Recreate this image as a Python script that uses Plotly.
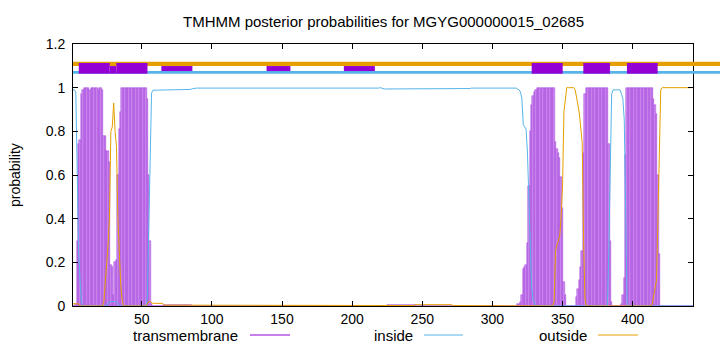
import plotly.graph_objects as go

# ---------------- data ----------------
residues = list(range(1, 444))

tm = [
    0, 0, 0.01, 0.3, 0.74, 0.76, 0.97, 0.99, 1, 1,            # 1
    1, 1, 0.99, 1, 1, 1, 1, 1, 0.99, 1,                       # 11
    1, 0.99, 0.78, 0.78, 0.71, 0.71, 0.66, 0.19, 0.18, 0.05,  # 21
    0.2, 0.21, 0.6, 0.81, 0.89, 1, 1, 1, 1, 1,                # 31
    1, 1, 1, 1, 1, 1, 1, 1, 1, 1,                             # 41
    1, 1, 1, 0.95, 0.6, 0.3, 0.01, 0, 0, 0,                   # 51
    0, 0, 0, 0, 0, 0.004, 0.004, 0.004, 0.004, 0.004,         # 61
    0.004, 0.004, 0.004, 0.004, 0.004, 0.004, 0.004, 0.004, 0.004, 0.004,  # 71
    0.004, 0.004, 0.004, 0.004, 0.004, 0, 0, 0, 0, 0,         # 81
    0, 0, 0, 0, 0, 0, 0, 0, 0, 0,                             # 91
    0, 0, 0, 0, 0, 0, 0, 0, 0, 0,                             # 101
    0, 0, 0, 0, 0, 0, 0, 0, 0, 0,                             # 111
    0, 0, 0, 0, 0, 0, 0, 0, 0, 0,                             # 121
    0, 0, 0, 0, 0, 0, 0, 0, 0, 0,                             # 131
    0, 0, 0, 0, 0, 0, 0, 0, 0, 0,                             # 141
    0, 0, 0, 0, 0, 0, 0, 0, 0, 0,                             # 151
    0, 0, 0, 0, 0, 0, 0, 0, 0, 0,                             # 161
    0, 0, 0, 0, 0, 0, 0, 0, 0, 0,                             # 171
    0, 0, 0, 0, 0, 0, 0, 0, 0, 0,                             # 181
    0, 0, 0, 0, 0, 0, 0, 0, 0, 0,                             # 191
    0, 0, 0, 0, 0, 0, 0, 0, 0, 0,                             # 201
    0, 0, 0, 0, 0, 0, 0, 0, 0, 0,                             # 211
    0, 0, 0, 0, 0.004, 0.004, 0.004, 0.004, 0.004, 0.004,     # 221
    0.004, 0.004, 0.004, 0.004, 0.004, 0.004, 0.004, 0.004, 0.004, 0.004,  # 231
    0.004, 0.004, 0.004, 0.004, 0.004, 0, 0, 0, 0, 0,         # 241
    0, 0, 0, 0, 0, 0, 0, 0, 0, 0,                             # 251
    0, 0, 0, 0, 0, 0, 0, 0, 0, 0,                             # 261
    0, 0, 0, 0, 0, 0, 0, 0, 0, 0,                             # 271
    0, 0, 0, 0, 0, 0, 0, 0, 0, 0,                             # 281
    0, 0, 0, 0, 0, 0, 0, 0, 0, 0,                             # 291
    0, 0, 0, 0, 0, 0, 0, 0, 0, 0,                             # 301
    0, 0, 0, 0, 0, 0, 0, 0.01, 0.01, 0.02,                    # 311
    0.05, 0.17, 0.18, 0.19, 0.29, 0.55, 0.8, 0.92, 0.96, 0.98,  # 321
    0.99, 1, 1, 1, 1, 1, 1, 1, 1, 1,                          # 331
    1, 1, 1, 1, 0.75, 0.72, 0.7, 0.68, 0.59, 0.45,            # 341
    0.11, 0.05, 0, 0, 0, 0, 0, 0, 0, 0.04,                    # 351
    0.08, 0.12, 0.18, 0.25, 0.7, 0.97, 1, 1, 1, 1,            # 361
    1, 1, 1, 1, 1, 1, 1, 1, 1, 1,                             # 371
    1, 1, 0.74, 0.3, 0.02, 0, 0, 0, 0, 0,                     # 381
    0, 0.01, 0.05, 0.13, 0.69, 1, 1, 1, 1, 1,                 # 391
    1, 1, 1, 1, 1, 1, 1, 1, 1, 1,                             # 401
    1, 1, 1, 1, 0.95, 0.92, 0.88, 0.6, 0.24, 0,               # 411
    0, 0, 0, 0, 0, 0, 0, 0, 0, 0,                             # 421
    0, 0, 0, 0, 0, 0, 0, 0, 0, 0,                             # 431
    0, 0, 0,                                                  # 441
]

inside = [
    0.99, 0.99, 0.98, 0.69, 0.25, 0.12, 0.02, 0, 0, 0,        # 1
    0, 0, 0, 0, 0, 0, 0, 0, 0, 0,                             # 11
    0, 0, 0, 0, 0, 0.01, 0.02, 0.02, 0.02, 0.02,              # 21
    0.02, 0.02, 0.01, 0, 0, 0, 0, 0, 0, 0,                    # 31
    0, 0, 0, 0, 0, 0, 0, 0, 0, 0,                             # 41
    0, 0, 0, 0.04, 0.38, 0.68, 0.975, 0.988, 0.989, 0.989,    # 51
    0.989, 0.989, 0.989, 0.989, 0.989, 0.989, 0.989, 0.989, 0.989, 0.989,  # 61
    0.989, 0.989, 0.989, 0.989, 0.989, 0.989, 0.989, 0.989, 0.989, 0.989,  # 71
    0.989, 0.989, 0.989, 0.99, 0.992, 0.995, 0.997, 0.998, 0.998, 0.998,   # 81
    0.998, 0.998, 0.998, 0.998, 0.998, 0.998, 0.998, 0.998, 0.998, 0.998,  # 91
    0.998, 0.998, 0.998, 0.998, 0.998, 0.998, 0.998, 0.998, 0.998, 0.998,  # 101
    0.998, 0.998, 0.998, 0.998, 0.998, 0.998, 0.998, 0.998, 0.998, 0.998,  # 111
    0.998, 0.998, 0.998, 0.998, 0.998, 0.998, 0.998, 0.998, 0.998, 0.998,  # 121
    0.998, 0.998, 0.998, 0.998, 0.998, 0.998, 0.998, 0.998, 0.998, 0.998,  # 131
    0.998, 0.998, 0.998, 0.998, 0.998, 0.998, 0.998, 0.998, 0.998, 0.998,  # 141
    0.998, 0.998, 0.998, 0.998, 0.998, 0.998, 0.998, 0.998, 0.998, 0.998,  # 151
    0.998, 0.998, 0.998, 0.998, 0.998, 0.998, 0.998, 0.998, 0.998, 0.998,  # 161
    0.998, 0.998, 0.998, 0.998, 0.996, 0.996, 0.996, 0.996, 0.996, 0.996,  # 171
    0.996, 0.996, 0.996, 0.996, 0.996, 0.996, 0.996, 0.996, 0.996, 0.998,  # 181
    0.998, 0.998, 0.998, 0.998, 0.998, 0.998, 0.998, 0.998, 0.998, 0.998,  # 191
    0.998, 0.998, 0.998, 0.998, 0.998, 0.998, 0.998, 0.998, 0.998, 0.998,  # 201
    0.998, 0.998, 0.998, 0.998, 0.998, 0.998, 0.998, 0.998, 0.998, 1.0,    # 211
    0.997, 0.995, 0.994, 0.994, 0.994, 0.994, 0.994, 0.994, 0.994, 0.994,  # 221
    0.994, 0.994, 0.994, 0.994, 0.994, 0.994, 0.994, 0.994, 0.994, 0.994,  # 231
    0.994, 0.994, 0.994, 0.994, 0.994, 0.994, 0.994, 0.994, 0.994, 0.994,  # 241
    0.994, 0.994, 0.994, 0.994, 0.994, 0.994, 0.994, 0.994, 0.994, 0.994,  # 251
    0.994, 0.994, 0.994, 0.994, 0.994, 0.994, 0.994, 0.994, 0.994, 0.994,  # 261
    0.994, 0.994, 0.994, 0.994, 0.994, 0.994, 0.994, 0.994, 0.994, 0.994,  # 271
    0.994, 0.994, 0.994, 0.996, 0.998, 0.998, 0.998, 0.998, 0.998, 0.998,  # 281
    0.998, 0.998, 0.998, 0.998, 0.998, 0.998, 0.998, 0.998, 0.998, 0.998,  # 291
    0.998, 0.998, 0.998, 0.998, 0.998, 0.998, 0.998, 0.998, 0.998, 0.998,  # 301
    0.998, 0.998, 0.998, 0.998, 0.998, 0.998, 0.998, 0.994, 0.99, 0.98,    # 311
    0.95, 0.83, 0.82, 0.81, 0.7, 0.45, 0.2, 0.08, 0.03, 0.01,              # 321
    0, 0, 0, 0, 0, 0, 0, 0, 0, 0,                             # 331
    0, 0, 0, 0, 0, 0, 0, 0, 0, 0,                             # 341
    0, 0, 0, 0, 0, 0, 0, 0, 0, 0,                             # 351
    0, 0, 0, 0, 0, 0, 0, 0, 0, 0,                             # 361
    0, 0, 0, 0, 0, 0, 0, 0, 0, 0,                             # 371
    0, 0, 0.26, 0.7, 0.97, 0.99, 0.99, 0.99, 0.99, 0.99,      # 381
    0.99, 0.97, 0.95, 0.85, 0.3, 0.02, 0, 0, 0, 0,            # 391
    0, 0, 0, 0, 0, 0, 0, 0, 0, 0,                             # 401
    0, 0, 0, 0, 0, 0, 0, 0, 0, 0,                             # 411
    0, 0, 0, 0, 0, 0, 0, 0, 0, 0,                             # 421
    0, 0, 0, 0, 0, 0, 0, 0, 0, 0,                             # 431
    0, 0, 0,                                                  # 441
]

outside = [
    0.01, 0.01, 0.01, 0.01, 0.01, 0, 0, 0, 0, 0,              # 1
    0, 0, 0, 0, 0, 0, 0, 0, 0, 0,                             # 11
    0, 0, 0.02, 0.1, 0.2, 0.28, 0.4, 0.8, 0.82, 0.93,         # 21
    0.8, 0.73, 0.4, 0.2, 0.1, 0.03, 0, 0, 0, 0,               # 31
    0, 0, 0, 0, 0, 0, 0, 0, 0, 0,                             # 41
    0, 0, 0, 0.01, 0.02, 0.02, 0.015, 0.012, 0.012, 0.012,    # 51
    0.012, 0.012, 0.012, 0.012, 0.012, 0.004, 0.004, 0.004, 0.004, 0.004,  # 61
    0.004, 0.004, 0.004, 0.004, 0.004, 0.004, 0.004, 0.004, 0.004, 0.004,  # 71
    0.004, 0.004, 0.004, 0.004, 0.004, 0.004, 0.004, 0.004, 0.004, 0.004,  # 81
    0.004, 0.004, 0.004, 0.004, 0.004, 0.004, 0.004, 0.004, 0.004, 0.004,  # 91
    0.004, 0.004, 0.004, 0.004, 0.004, 0.004, 0.004, 0.004, 0.004, 0.004,  # 101
    0.004, 0.004, 0.004, 0.004, 0.004, 0.004, 0.004, 0.004, 0.004, 0.004,  # 111
    0.004, 0.004, 0.004, 0.004, 0.004, 0.004, 0.004, 0.004, 0.004, 0.004,  # 121
    0.004, 0.004, 0.004, 0.004, 0.004, 0.004, 0.004, 0.004, 0.004, 0.004,  # 131
    0.004, 0.004, 0.004, 0.004, 0.004, 0.004, 0.004, 0.004, 0.004, 0.004,  # 141
    0.004, 0.004, 0.004, 0.004, 0.004, 0.004, 0.004, 0.004, 0.004, 0.004,  # 151
    0.004, 0.004, 0.004, 0.004, 0.004, 0.004, 0.004, 0.004, 0.004, 0.004,  # 161
    0.004, 0.004, 0.002, 0.002, 0.002, 0.002, 0.002, 0.002, 0.002, 0.002,  # 171
    0.002, 0.002, 0.002, 0.002, 0.002, 0.002, 0.002, 0.002, 0.002, 0.002,  # 181
    0.002, 0.002, 0.002, 0.002, 0.002, 0.002, 0.002, 0.002, 0.002, 0.002,  # 191
    0.002, 0.002, 0.002, 0.002, 0.002, 0.002, 0.002, 0.002, 0.002, 0.002,  # 201
    0.002, 0.002, 0.002, 0.002, 0.002, 0.002, 0.002, 0.002, 0.002, 0.002,  # 211
    0.002, 0.002, 0.002, 0.002, 0.002, 0.002, 0.002, 0.002, 0.002, 0.002,  # 221
    0.002, 0.002, 0.002, 0.002, 0.002, 0.002, 0.002, 0.002, 0.002, 0.002,  # 231
    0.002, 0.002, 0.002, 0.002, 0.006, 0.006, 0.006, 0.006, 0.006, 0.006,  # 241
    0.006, 0.006, 0.006, 0.006, 0.006, 0.006, 0.006, 0.006, 0.006, 0.006,  # 251
    0.006, 0.006, 0.006, 0.006, 0.006, 0.006, 0.006, 0.006, 0.006, 0.006,  # 261
    0.006, 0.002, 0.002, 0.002, 0.002, 0.002, 0.002, 0.002, 0.002, 0.002,  # 271
    0.002, 0.002, 0.002, 0.002, 0.002, 0.002, 0.002, 0.002, 0.002, 0.002,  # 281
    0.002, 0.002, 0.002, 0.002, 0.002, 0.002, 0.002, 0.002, 0.002, 0.002,  # 291
    0.002, 0.002, 0.002, 0.002, 0.002, 0.002, 0.002, 0.002, 0.002, 0.002,  # 301
    0.002, 0.002, 0.002, 0.002, 0.002, 0.002, 0.002, 0, 0, 0,              # 311
    0, 0, 0, 0, 0, 0, 0, 0, 0, 0,                             # 321
    0, 0, 0, 0, 0, 0, 0, 0, 0, 0,                             # 331
    0, 0, 0, 0.02, 0.25, 0.28, 0.3, 0.32, 0.41, 0.55,         # 341
    0.89, 0.95, 1, 1, 1, 1, 1, 1, 0.99, 0.96,                 # 351
    0.92, 0.88, 0.82, 0.75, 0.3, 0.03, 0, 0, 0, 0,            # 361
    0, 0, 0, 0, 0, 0, 0, 0, 0, 0,                             # 371
    0, 0, 0, 0, 0, 0, 0, 0, 0, 0,                             # 381
    0, 0, 0, 0, 0, 0, 0, 0, 0, 0,                             # 391
    0, 0, 0, 0, 0, 0, 0, 0, 0, 0,                             # 401
    0, 0, 0, 0.01, 0.05, 0.08, 0.12, 0.4, 0.76, 0.99,         # 411
    1, 1, 1, 1, 1, 1, 1, 1, 1, 1,                             # 421
    1, 1, 1, 1, 1, 1, 1, 1, 1, 1,                             # 431
    1, 1, 1,                                                  # 441
]

assert len(tm) == len(inside) == len(outside) == len(residues)

title_text = "TMHMM posterior probabilities for MGYG000000015_02685"
x_ticks = [50, 100, 150, 200, 250, 300, 350, 400]
y_ticks = [0, 0.2, 0.4, 0.6, 0.8, 1.0, 1.2]
y_tick_labels = ["0", "0.2", "0.4", "0.6", "0.8", "1", "1.2"]
legend_labels = ["transmembrane", "inside", "outside"]

# predicted topology (top strip)
tm_segments = [(5.1, 27.2), (31.9, 54.1), (328.0, 350.1), (364.8, 383.8), (395.9, 417.8)]
gap_segments = [(27.2, 31.9)]
thin_segments = [(64.0, 86.1), (139.0, 156.0), (194.1, 216.2)]

PURPLE = "#9400d3"
BLUE = "#56b4e9"
ORANGE = "#e69f00"
FONT = "Liberation Sans"

fig = go.Figure()
fig.add_trace(go.Bar(
    x=residues, y=tm, width=1.0,
    marker=dict(color="#cf8cef", line=dict(color="#a040dc", width=0.5)),
    showlegend=False, hoverinfo="skip"))
fig.add_trace(go.Scatter(x=residues, y=inside, mode="lines",
                         line=dict(color=BLUE, width=1), showlegend=False))
fig.add_trace(go.Scatter(x=residues, y=outside, mode="lines",
                         line=dict(color=ORANGE, width=1), showlegend=False))

shapes = []
# full-width strips
shapes.append(dict(type="rect", xref="paper", yref="y", x0=0, x1=1.05, y0=1.099, y1=1.119,
                   fillcolor=ORANGE, line=dict(width=0), layer="above"))
shapes.append(dict(type="rect", xref="paper", yref="y", x0=0, x1=1.05, y0=1.064, y1=1.076,
                   fillcolor=BLUE, line=dict(width=0), layer="above"))
for a, b in thin_segments:
    shapes.append(dict(type="rect", xref="x", yref="y", x0=a, x1=b, y0=1.076, y1=1.099,
                       fillcolor=PURPLE, line=dict(width=0), layer="above"))
for a, b in gap_segments:
    shapes.append(dict(type="rect", xref="x", yref="y", x0=a, x1=b, y0=1.064, y1=1.099,
                       fillcolor=PURPLE, line=dict(width=0), layer="above"))
for a, b in tm_segments:
    shapes.append(dict(type="rect", xref="x", yref="y", x0=a, x1=b, y0=1.064, y1=1.113,
                       fillcolor=PURPLE, line=dict(width=0), layer="above"))

# legend (gnuplot style: text then sample)
L, W, T, H = 73, 620, 44, 262
def px(xp):
    return (xp - L) / W
def py(yp):
    return (T + H - yp) / H

legend_y = 335
legend_specs = [(legend_labels[0], 240, 250, 290, PURPLE),
                (legend_labels[1], 415, 424, 463, BLUE),
                (legend_labels[2], 589, 598, 638, ORANGE)]
annotations = []
for text, tx, l0, l1, col in legend_specs:
    annotations.append(dict(text=text, xref="paper", yref="paper", x=px(tx), y=py(legend_y),
                            xanchor="right", yanchor="middle", showarrow=False,
                            font=dict(family=FONT, size=15, color="black")))
    shapes.append(dict(type="line", xref="paper", yref="paper", x0=px(l0), x1=px(l1),
                       y0=py(legend_y), y1=py(legend_y), line=dict(color=col, width=1)))

annotations.append(dict(text="probability", xref="paper", yref="paper", x=px(15), y=0.5,
                        xanchor="center", yanchor="middle", textangle=-90, showarrow=False,
                        font=dict(family=FONT, size=14, color="black")))
annotations.append(dict(text=title_text, xref="paper", yref="paper", x=0.5, y=py(22),
                        xanchor="center", yanchor="middle", showarrow=False,
                        font=dict(family=FONT, size=15, color="black")))

axis_common = dict(showline=True, linecolor="black", linewidth=1, mirror="ticks",
                   ticks="inside", ticklen=5, tickcolor="black", showgrid=False,
                   zeroline=False, tickfont=dict(family=FONT, size=14, color="black"))

fig.update_layout(
    width=720, height=352,
    margin=dict(l=L, r=720 - L - W, t=T, b=352 - T - H),
    paper_bgcolor="white", plot_bgcolor="white",
    bargap=0, showlegend=False,
    shapes=shapes, annotations=annotations,
    xaxis=dict(range=[1, 443], tickvals=x_ticks, **axis_common),
    yaxis=dict(range=[0, 1.2], tickvals=y_ticks, ticktext=y_tick_labels,
               ticklabelstandoff=4, **axis_common),
)

fig.write_html("out.html")
